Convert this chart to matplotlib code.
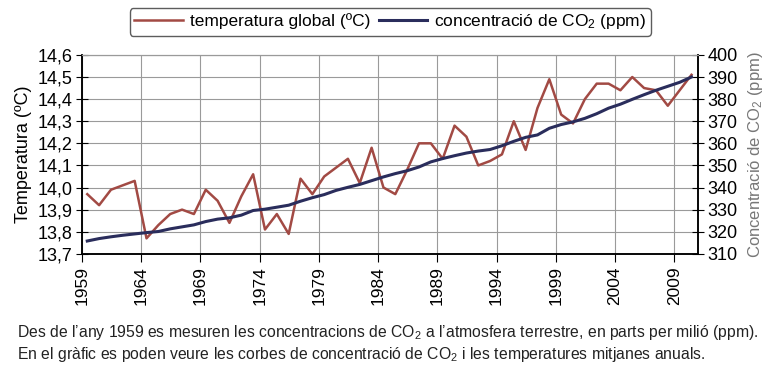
import numpy as np
import matplotlib.pyplot as plt
from matplotlib.ticker import FuncFormatter

years = np.arange(1959, 2011)

temperature = [13.97, 13.92, 13.99, 14.01, 14.03, 13.77, 13.83, 13.88, 13.90, 13.88,
               13.99, 13.94, 13.84, 13.96, 14.06, 13.81, 13.88, 13.79, 14.04, 13.97,
               14.05, 14.09, 14.13, 14.02, 14.18, 14.00, 13.97, 14.08, 14.20, 14.20,
               14.13, 14.28, 14.23, 14.10, 14.12, 14.15, 14.30, 14.17, 14.36, 14.49,
               14.33, 14.29, 14.40, 14.47, 14.47, 14.44, 14.50, 14.45, 14.44, 14.37,
               14.44, 14.51]

co2 = [315.8, 316.9, 317.7, 318.4, 319.0, 319.6, 320.1, 321.3, 322.2, 323.1,
       324.6, 325.7, 326.3, 327.5, 329.6, 330.2, 331.1, 332.0, 333.8, 335.4,
       336.8, 338.7, 340.1, 341.4, 343.1, 344.8, 346.3, 347.6, 349.3, 351.6,
       353.1, 354.4, 355.6, 356.5, 357.2, 358.9, 360.9, 362.7, 363.8, 366.8,
       368.5, 369.7, 371.3, 373.4, 375.9, 377.7, 379.9, 382.0, 384.0, 385.8,
       387.6, 390.0]

year_ticks = np.arange(1959, 2010, 5)
temp_ticks = np.arange(13.7, 14.61, 0.1)
co2_ticks = np.arange(310, 401, 10)

caption = ["Des de l\u2019any 1959 es mesuren les concentracions de CO$_2$ a l\u2019atmosfera terrestre, en parts per milió (ppm).",
           "En el gràfic es poden veure les corbes de concentració de CO$_2$ i les temperatures mitjanes anuals."]

plt.rcParams['font.family'] = ['Liberation Sans', 'DejaVu Sans']
plt.rcParams['mathtext.fontset'] = 'custom'
plt.rcParams['mathtext.rm'] = 'Liberation Sans'
plt.rcParams['mathtext.default'] = 'regular'

red = '#a24a44'
navy = '#2a2d5c'

fig = plt.figure(figsize=(7.73, 3.84), dpi=100)
ax1 = fig.add_axes([0.106, 0.339, 0.797, 0.518])
ax2 = ax1.twinx()

# points sit about half a year right of their tick
xpos = years + 0.45
l1, = ax1.plot(xpos, temperature, color=red, lw=1.8, label='temperatura global (ºC)')
l2, = ax2.plot(xpos, co2, color=navy, lw=2.2, label='concentració de CO$_2$ (ppm)')

ax1.set_xlim(1959, 2011)
ax1.set_ylim(13.7, 14.6)
ax2.set_ylim(310, 400)
ax1.set_xticks(year_ticks)
ax1.set_xticklabels([str(y) for y in year_ticks], rotation=90, fontsize=12.5)
ax1.set_yticks(temp_ticks)
ax1.yaxis.set_major_formatter(FuncFormatter(lambda v, p: f'{v:.1f}'.replace('.', ',')))
ax2.set_yticks(co2_ticks)

ax1.grid(True, color='#9a9a9a', lw=0.8)
ax1.tick_params(axis='y', direction='inout', length=8, labelsize=13, pad=3)
ax1.tick_params(axis='x', direction='out', length=6, pad=3)
ax2.tick_params(axis='y', direction='inout', length=8, labelsize=13, pad=3)

for ax in (ax1, ax2):
    ax.spines['top'].set_color('#9a9a9a')
    ax.spines['top'].set_linewidth(0.8)
    for s in ('left', 'right', 'bottom'):
        ax.spines[s].set_linewidth(1.1)

ax1.set_ylabel('Temperatura (ºC)', fontsize=13, labelpad=4)
ax2.set_ylabel('Concentració de CO$_2$ (ppm)', fontsize=12, color='#777777', labelpad=6)

leg = fig.legend(handles=[l1, l2], loc='center', bbox_to_anchor=(0.505, 0.943), ncol=2,
                 fontsize=12.5, frameon=True, fancybox=True, edgecolor='#333333',
                 handlelength=2.8, columnspacing=0.5, handletextpad=0.4, borderpad=0.25)
leg.get_frame().set_linewidth(1.0)

fig.text(0.022, 0.135, caption[0], fontsize=11.3, color='#222222', va='center')
fig.text(0.022, 0.078, caption[1], fontsize=11.3, color='#222222', va='center')

fig.savefig('out.png', dpi=100)
